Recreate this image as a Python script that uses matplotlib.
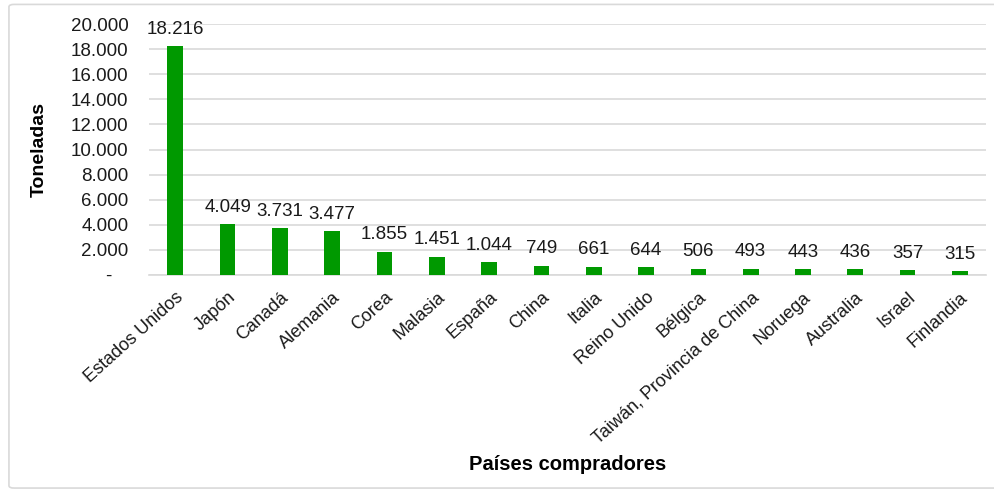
import matplotlib
matplotlib.use("Agg")
import matplotlib.pyplot as plt
from matplotlib.ticker import FuncFormatter
from matplotlib.patches import FancyBboxPatch

plt.rcParams['font.family'] = ['Liberation Sans', 'DejaVu Sans']

paises = ["Estados Unidos", "Japón", "Canadá", "Alemania", "Corea", "Malasia",
          "España", "China", "Italia", "Reino Unido", "Bélgica",
          "Taiwán, Provincia de China", "Noruega", "Australia", "Israel", "Finlandia"]
toneladas = [18216, 4049, 3731, 3477, 1855, 1451, 1044, 749, 661, 644, 506,
             493, 443, 436, 357, 315]
yticks = [0, 2000, 4000, 6000, 8000, 10000, 12000, 14000, 16000, 18000, 20000]


def fmt(v):
    if v == 0:
        return "-"
    return f"{int(v):,}".replace(",", ".")


def fmt_tick(v, p):
    if v == 0:
        return "-   "
    return fmt(v)


fig = plt.figure(figsize=(9.94, 4.91), dpi=100)
border = FancyBboxPatch((0.009, 0.006), 1.05, 0.985, boxstyle="round,pad=0,rounding_size=0.005",
                        transform=fig.transFigure, fill=False, edgecolor="#d9d9d9", linewidth=1.2)
fig.patches.append(border)

ax = fig.add_axes([0.150, 0.440, 0.842, 0.511])
x = range(len(paises))
ax.bar(x, toneladas, width=0.3, color="#009900", zorder=3)
for xi, v in zip(x, toneladas):
    ax.annotate(fmt(v), (xi, v), xytext=(0, 6), textcoords="offset points",
                ha="center", va="bottom", fontsize=13.5, color="#1a1a1a")

ax.set_ylim(0, 20000)
ax.set_xlim(-0.5, len(paises) - 0.5)
ax.set_yticks(yticks)
ax.yaxis.set_major_formatter(FuncFormatter(fmt_tick))
ax.grid(axis="y", color="#d9d9d9", linewidth=1.2, zorder=0)
for s in ["top", "right", "left"]:
    ax.spines[s].set_visible(False)
ax.spines["bottom"].set_color("#d9d9d9")
ax.spines["bottom"].set_linewidth(1.2)
ax.tick_params(axis="both", length=0, labelsize=13.5, colors="#1a1a1a")
ax.tick_params(axis="y", pad=15)
ax.set_xticks(list(x))
ax.set_xticklabels(paises, rotation=42, ha="right", rotation_mode="anchor", fontsize=13)
ax.tick_params(axis="x", pad=10)

ax.set_ylabel("Toneladas", fontsize=14, fontweight="bold")
ax.yaxis.set_label_coords(-0.121, 0.5)
fig.text(0.571, 0.053, "Países compradores", ha="center", va="center", fontsize=14.5, fontweight="bold")

fig.savefig("out.png", dpi=100)
